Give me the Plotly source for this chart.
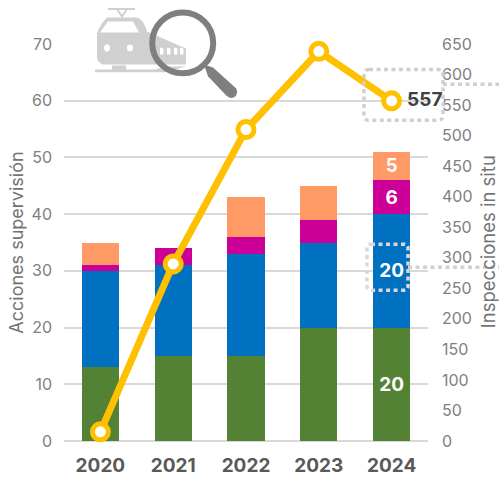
import plotly.graph_objects as go

years = ["2020", "2021", "2022", "2023", "2024"]
green = [13, 15, 15, 20, 20]
blue = [17, 16, 18, 15, 20]
magenta = [1, 3, 3, 4, 6]
orange = [4, 0, 7, 6, 5]
inspections = [15, 290, 510, 638, 557]
green_labels = ["", "", "", "", "20"]
blue_labels = ["", "", "", "", "20"]
magenta_labels = ["", "", "", "", "6"]
orange_labels = ["", "", "", "", "5"]
line_labels = ["", "", "", "", "557"]
left_title = "Acciones supervisión"
right_title = "Inspecciones in situ"

PAGE_W, PAGE_H = 499, 478
L, R, T, B = 64, 428, 43.6, 441
FONT = "Inter, Open Sans, sans-serif"

def X(x):
    return (x - L) / (R - L)

def Y(y):
    return 1 - (y - T) / (B - T)

def path(*cmds):
    """Turn pixel drawing commands into a paper-referenced SVG path."""
    out = []
    for c in cmds:
        if isinstance(c, str):
            out.append(c)
        else:
            out.append(f"{X(c[0]):.5f},{Y(c[1]):.5f}")
    return " ".join(out)

def shape_path(d, fill=None, color=None, width=0, dash=None):
    line = dict(width=width, color=color or "rgba(0,0,0,0)")
    if dash:
        line["dash"] = dash
    return dict(type="path", xref="paper", yref="paper", path=d, line=line,
                fillcolor=fill or "rgba(0,0,0,0)", layer="above")

def rrect(x0, y0, x1, y1, r):
    return path("M", (x0 + r, y0), "L", (x1 - r, y0), "Q", (x1, y0), (x1, y0 + r),
                "L", (x1, y1 - r), "Q", (x1, y1), (x1 - r, y1),
                "L", (x0 + r, y1), "Q", (x0, y1), (x0, y1 - r),
                "L", (x0, y0 + r), "Q", (x0, y0), (x0 + r, y0), "Z")

fig = go.Figure()
bar_font = dict(family=FONT, size=19, color="white", weight=700)
for vals, labs, col, nm in [
    (green, green_labels, "#548235", "Verde"),
    (blue, blue_labels, "#0070C0", "Azul"),
    (magenta, magenta_labels, "#CC0099", "Magenta"),
    (orange, orange_labels, "#FF9966", "Naranja"),
]:
    fig.add_trace(go.Bar(x=years, y=vals, name=nm, marker=dict(color=col, line_width=0),
                         text=labs, textposition="inside", insidetextanchor="middle",
                         textangle=0, textfont=bar_font, cliponaxis=False, yaxis="y"))

fig.add_trace(go.Scatter(
    x=years, y=inspections, yaxis="y2", mode="lines+markers+text", name="Inspecciones",
    line=dict(color="#FFC000", width=7),
    marker=dict(size=16, color="white", line=dict(color="#FFC000", width=5)),
    text=["\u00a0" + t if t else t for t in line_labels], textposition="middle right",
    textfont=dict(family=FONT, size=19, color="#404040", weight=700), cliponaxis=False,
))

TR = "#D0D0D0"
shapes = [
    shape_path(path("M", (107, 17), "L", (135, 17), "Q", (143, 17), (147, 31),
                    "L", (186, 48), "L", (186, 64), "L", (103, 64), "Q", (97, 62), (97, 56),
                    "L", (97, 33), "Q", (100, 24), (107, 17), "Z"), fill=TR),
    shape_path(path("M", (100, 32), "L", (108, 21), "L", (133, 21), "L", (139, 32), "Z"), fill="white"),
    shape_path(path("M", (104, 47), "Q", (104, 44), (107, 44), "Q", (110, 44), (110, 47),
                    "Q", (110, 51), (107, 51), "Q", (104, 51), (104, 47), "Z"), fill="white"),
    shape_path(path("M", (127, 47), "Q", (127, 44), (130, 44), "Q", (133, 44), (133, 47),
                    "Q", (133, 51), (130, 51), "Q", (127, 51), (127, 47), "Z"), fill="white"),
    shape_path(path("M", (108, 8.5), "L", (135, 8.5), "M", (117, 8.5), "L", (122, 16), "L", (127, 8.5)),
               color=TR, width=2),
    shape_path(path("M", (95, 69), "L", (112, 69), "L", (112, 65), "L", (126, 65), "L", (126, 69),
                    "L", (155, 69), "L", (165, 66), "L", (186, 66), "L", (165, 72), "L", (95, 72), "Z"), fill=TR),
]
for wx in (160, 167, 174, 180):
    shapes.append(shape_path(path("M", (wx, 47), "L", (wx + 3.5, 48), "L", (wx + 3.5, 54), "L", (wx, 54), "Z"),
                             fill="white"))
cx, cy, r, k = 182.7, 42.5, 30.5, 0.5523
shapes += [
    shape_path(path("M", (cx - r, cy), "C", (cx - r, cy - k * r), (cx - k * r, cy - r), (cx, cy - r),
                    "C", (cx + k * r, cy - r), (cx + r, cy - k * r), (cx + r, cy),
                    "C", (cx + r, cy + k * r), (cx + k * r, cy + r), (cx, cy + r),
                    "C", (cx - k * r, cy + r), (cx - r, cy + k * r), (cx - r, cy), "Z"),
               color="#7F7F7F", width=6),
    shape_path(path("M", (204, 64), "L", (213, 67), "L", (236, 88), "Q", (239, 94), (234, 97),
                    "Q", (230, 99), (226, 95), "L", (208, 76), "Z"), fill="#7F7F7F"),
]
DOT = "4px,3.5px"
shapes += [
    shape_path(rrect(364, 69, 443, 120, 5), color="#D0D0D0", width=3.5, dash=DOT),
    shape_path(path("M", (443, 84), "L", (499, 84)), color="#D0D0D0", width=3.5, dash=DOT),
    shape_path(rrect(367, 244, 408, 290, 4), color="#D9D9D9", width=3.5, dash=DOT),
    shape_path(path("M", (408, 267), "L", (499, 267)), color="#D0D0D0", width=3.5, dash=DOT),
]

tick = dict(family=FONT, size=16, color="#808080")
annotations = [
    dict(text=left_title, xref="paper", yref="paper", x=X(17), y=Y(242.5), textangle=-90,
         showarrow=False, xanchor="center", yanchor="middle",
         font=dict(family=FONT, size=18, color="#737373")),
    dict(text=right_title, xref="paper", yref="paper", x=X(488), y=Y(242), textangle=-90,
         showarrow=False, xanchor="center", yanchor="middle",
         font=dict(family=FONT, size=18.5, color="#737373")),
]
fig.update_layout(
    width=PAGE_W, height=PAGE_H,
    margin=dict(l=L, r=PAGE_W - R, t=T, b=PAGE_H - B, pad=0),
    paper_bgcolor="white", plot_bgcolor="white", barmode="stack", bargap=0.49,
    showlegend=False, shapes=shapes, annotations=annotations,
    xaxis=dict(type="category", showgrid=False, showline=False, ticks="", ticklabelstandoff=11,
               automargin=False,
               tickfont=dict(family=FONT, size=19, color="#595959", weight=700)),
    yaxis=dict(range=[0, 70], dtick=10, showgrid=True, gridcolor="#D9D9D9", gridwidth=1.5,
               zeroline=True, zerolinecolor="#D9D9D9", zerolinewidth=1.5, showline=False,
               ticks="", tickfont=tick, ticklabelstandoff=11, automargin=False),
    yaxis2=dict(range=[0, 650], dtick=50, overlaying="y", side="right", showgrid=False,
                zeroline=False, showline=False, ticks="", tickfont=tick,
                ticklabelstandoff=13, automargin=False),
)
fig.write_html("out.html", config=dict(displayModeBar=False),
               post_script="document.body.style.margin='0';document.body.style.overflow='hidden';")
